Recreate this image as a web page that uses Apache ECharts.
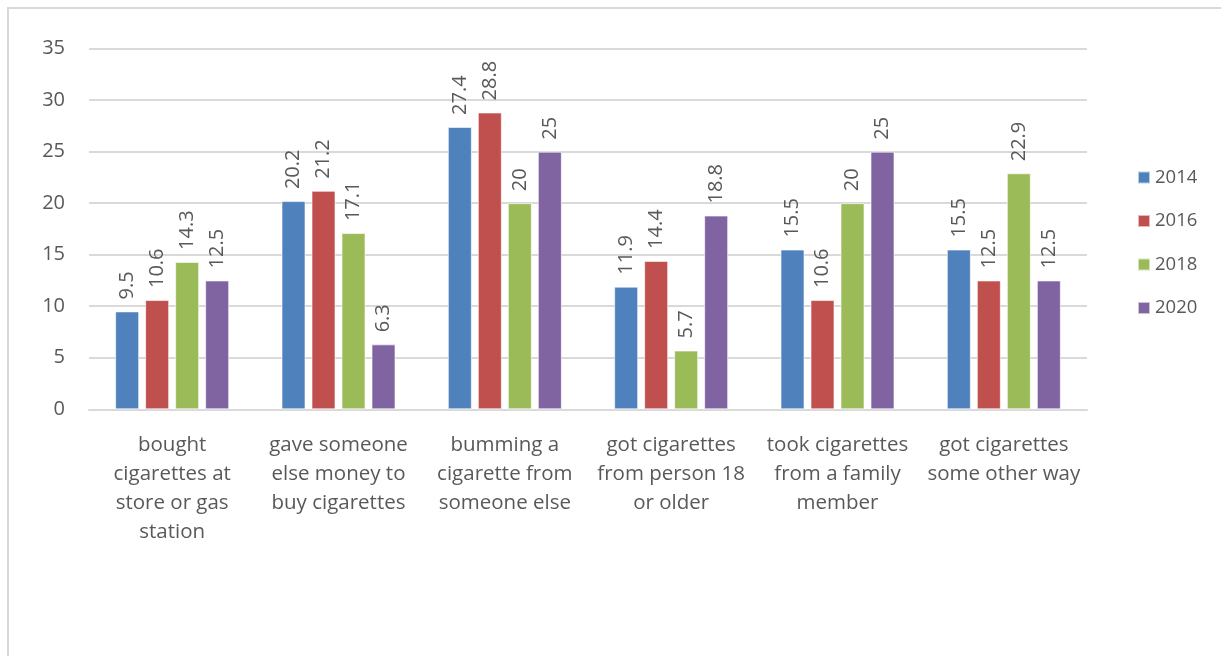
<!DOCTYPE html>
<html><head><meta charset="utf-8">
<script src="https://cdn.jsdelivr.net/npm/echarts@6/dist/echarts.min.js"></script>
<style>
html,body{margin:0;padding:0;background:#fff;}
#frame{position:absolute;left:7px;top:7px;width:1300px;height:700px;border-left:2px solid #D9D9D9;border-top:2px solid #D9D9D9;box-sizing:border-box;}
#chart{position:absolute;left:0;top:0;width:1221px;height:656px;}
</style></head>
<body>
<div id="frame"></div>
<div id="chart"></div>
<script>
const categories = [
  "bought\ncigarettes at\nstore or gas\nstation",
  "gave someone\nelse money to\nbuy cigarettes",
  "bumming a\ncigarette from\nsomeone else",
  "got cigarettes\nfrom person 18\nor older",
  "took cigarettes\nfrom a family\nmember",
  "got cigarettes\nsome other way"
];
const seriesNames = ["2014", "2016", "2018", "2020"];
const v2014 = [9.5, 20.2, 27.4, 11.9, 15.5, 15.5];
const v2016 = [10.6, 21.2, 28.8, 14.4, 10.6, 12.5];
const v2018 = [14.3, 17.1, 20, 5.7, 20, 22.9];
const v2020 = [12.5, 6.3, 25, 18.8, 25, 12.5];
const yTicks = [0, 5, 10, 15, 20, 25, 30, 35];
const colors = ["#4F81BD", "#C0504D", "#9BBB59", "#8064A2"];

const FONT = "'Open Sans', sans-serif";
const TXT = "#595959";
const values = [v2014, v2016, v2018, v2020];

const chart = echarts.init(document.getElementById('chart'), null, {renderer: 'canvas'});
chart.setOption({
  animation: false,
  textStyle: {fontFamily: FONT},
  grid: {left: 89, right: 134, top: 48.6, bottom: 246.7, containLabel: false},
  legend: {
    orient: 'vertical', left: 1132, top: 163, itemWidth: 12, itemHeight: 12, itemGap: 24.5,
    icon: 'rect',
    textStyle: {fontSize: 18.5, color: TXT, fontFamily: FONT, padding: [0,0,0,0]},
    data: seriesNames
  },
  xAxis: {
    type: 'category', data: categories,
    axisLine: {lineStyle: {color: '#D9D9D9', width: 2}},
    axisTick: {show: false},
    axisLabel: {color: TXT, fontSize: 20.5, lineHeight: 29, margin: 21, fontFamily: FONT, interval: 0}
  },
  yAxis: {
    type: 'value', min: yTicks[0], max: yTicks[yTicks.length-1], interval: 5,
    axisLine: {show: false}, axisTick: {show: false},
    splitLine: {lineStyle: {color: '#D9D9D9', width: 2}},
    axisLabel: {color: TXT, fontSize: 20, margin: 24, fontFamily: FONT}
  },
  series: seriesNames.map((n, i) => ({
    name: n, type: 'bar', data: values[i],
    barWidth: 24, barGap: '25%',
    itemStyle: {color: colors[i], borderColor: 'rgba(255,255,255,0.6)', borderWidth: 1},
    label: {show: true, position: 'top', rotate: 90, align: 'left', verticalAlign: 'middle',
      distance: 12, color: TXT, fontSize: 20, fontFamily: FONT}
  }))
});
</script>
</body></html>
